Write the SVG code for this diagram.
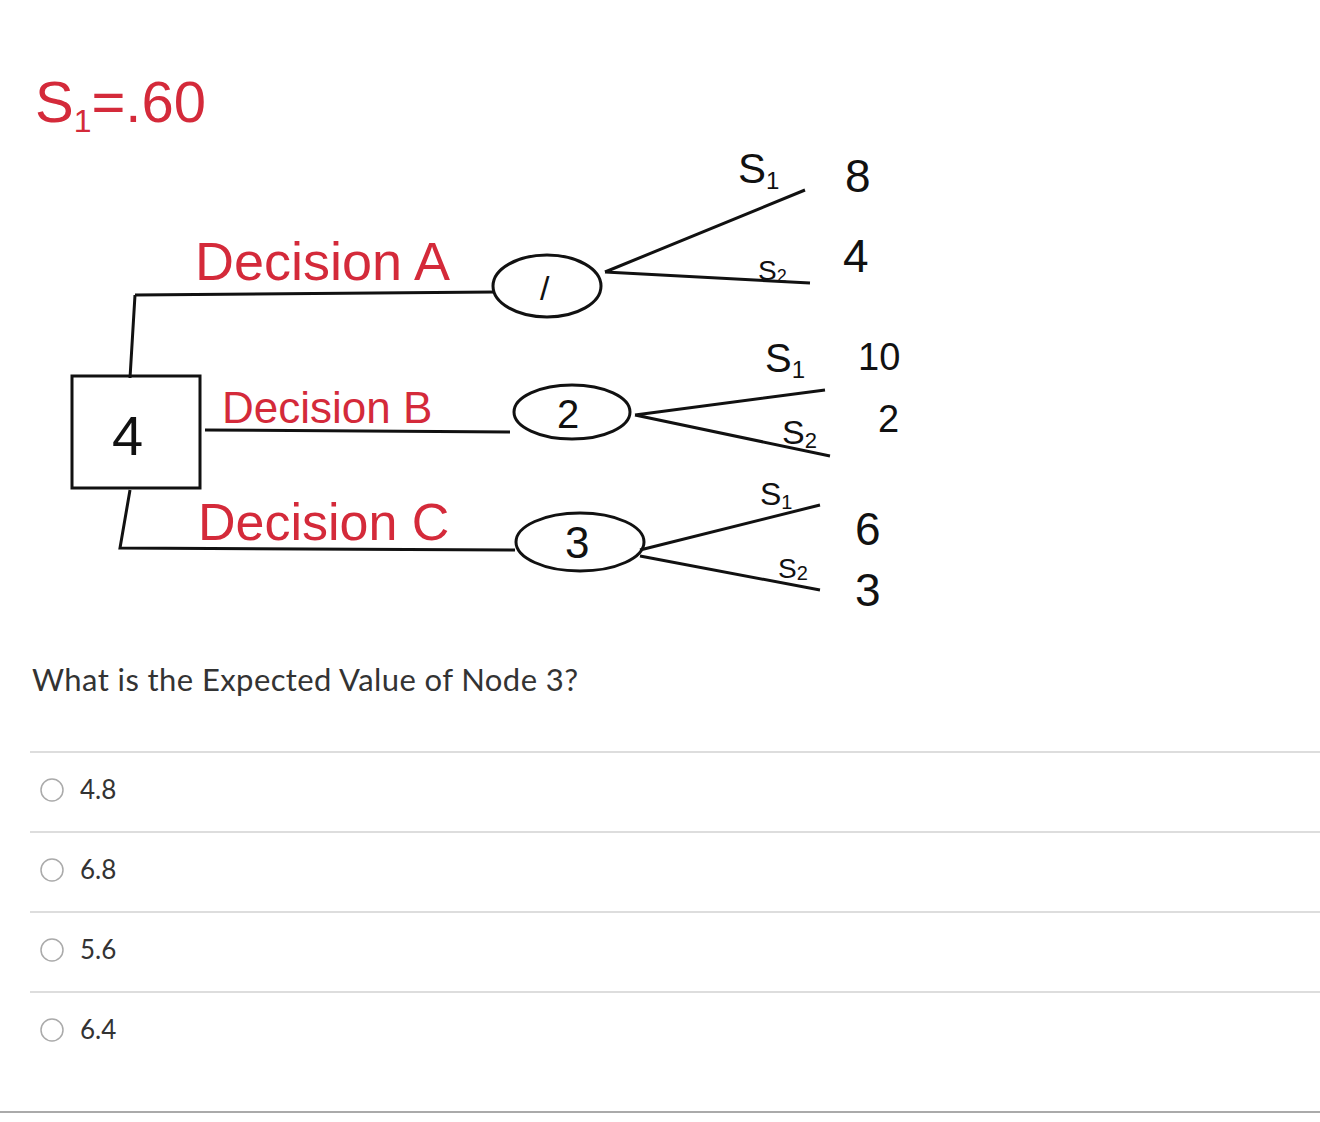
<svg xmlns="http://www.w3.org/2000/svg" width="1320" height="1122" viewBox="0 0 1320 1122">
<style>
.red{fill:#d42a3a;font-family:"Liberation Sans",sans-serif}
.ink{fill:#111;font-family:"Liberation Sans",sans-serif}
.ln{stroke:#111;stroke-width:3;fill:none}
.q{fill:#333;font-family:Lato,sans-serif}
.sep{stroke:#ddd;stroke-width:2}
.rb{fill:#fff;stroke:#aaa;stroke-width:1.5}
</style>
<rect width="1320" height="1122" fill="#fff"/>
<text class="red" x="35" y="122" font-size="58">S<tspan font-size="32" dy="10">1</tspan><tspan dy="-10">=.60</tspan></text>
<g id="connectors">
<path class="ln" d="M135 295 L495 292 M135 295 L130 378 M205 430 L510 432 M130 490 L120 548 L515 550"/>
<path class="ln" d="M605 272 L805 190 M605 272 L810 283 M635 415 L825 390 M635 415 L830 456 M640 550 L820 505 M640 556 L820 590"/>
</g>
<g id="root"><rect class="ln" x="72" y="376" width="128" height="112"/><text class="ink" x="112" y="455" font-size="56">4</text></g>
<g id="node1"><ellipse class="ln" cx="547" cy="286" rx="54" ry="31"/><text class="ink" x="540" y="300" font-size="34">/</text></g>
<g id="node2"><ellipse class="ln" cx="572" cy="412" rx="58" ry="27"/><text class="ink" x="557" y="428" font-size="40">2</text></g>
<g id="node3"><ellipse class="ln" cx="580" cy="542" rx="64" ry="29"/><text class="ink" x="565" y="558" font-size="44">3</text></g>
<text class="red" x="195" y="280" font-size="54">Decision A</text>
<text class="red" x="222" y="423" font-size="44">Decision B</text>
<text class="red" x="198" y="540" font-size="52">Decision C</text>
<g id="labels">
<text class="ink" x="738" y="183" font-size="42">S<tspan font-size="24" dy="6">1</tspan></text>
<text class="ink" x="845" y="192" font-size="46">8</text>
<text class="ink" x="758" y="280" font-size="28">S<tspan font-size="18" dy="2">2</tspan></text>
<text class="ink" x="843" y="272" font-size="46">4</text>
<text class="ink" x="765" y="372" font-size="40">S<tspan font-size="24" dy="6">1</tspan></text>
<text class="ink" x="858" y="370" font-size="38">10</text>
<text class="ink" x="782" y="444" font-size="34">S<tspan font-size="22" dy="4">2</tspan></text>
<text class="ink" x="878" y="432" font-size="38">2</text>
<text class="ink" x="760" y="505" font-size="32">S<tspan font-size="20" dy="4">1</tspan></text>
<text class="ink" x="855" y="545" font-size="46">6</text>
<text class="ink" x="778" y="578" font-size="28">S<tspan font-size="20" dy="2">2</tspan></text>
<text class="ink" x="855" y="606" font-size="46">3</text>
</g>
<text class="q" x="32" y="691" font-size="31" textLength="546">What is the Expected Value of Node 3?</text>
<line class="sep" x1="30" y1="752" x2="1320" y2="752"/>
<line class="sep" x1="30" y1="832" x2="1320" y2="832"/>
<line class="sep" x1="30" y1="912" x2="1320" y2="912"/>
<line class="sep" x1="30" y1="992" x2="1320" y2="992"/>
<line x1="0" y1="1112" x2="1320" y2="1112" stroke="#aaa" stroke-width="2"/>
<circle class="rb" cx="52" cy="790" r="11"/><text class="q" x="80" y="799" font-size="26">4.8</text>
<circle class="rb" cx="52" cy="870" r="11"/><text class="q" x="80" y="879" font-size="26">6.8</text>
<circle class="rb" cx="52" cy="950" r="11"/><text class="q" x="80" y="959" font-size="26">5.6</text>
<circle class="rb" cx="52" cy="1030" r="11"/><text class="q" x="80" y="1039" font-size="26">6.4</text>
</svg>
